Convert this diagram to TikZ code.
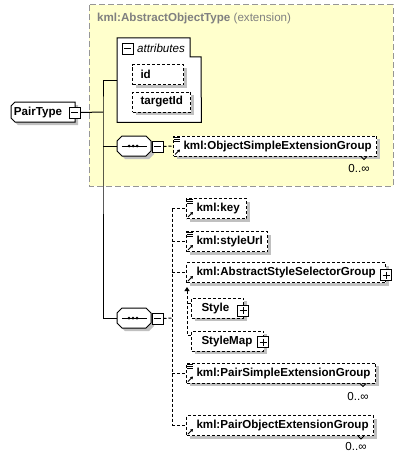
\documentclass[tikz,border=0pt]{standalone}
\usepackage{fontspec}
\setmainfont{Liberation Sans}
\usetikzlibrary{arrows.meta,positioning,calc}

\definecolor{extfill}{RGB}{255,255,204}
\definecolor{extline}{RGB}{150,150,150}
\definecolor{shadowgray}{RGB}{192,192,192}
\definecolor{captiongray}{RGB}{128,128,128}

\tikzset{
  boxshadow/.style={preaction={fill=shadowgray,draw=none,transform canvas={shift={(3pt,-3pt)}}}},
  txt/.style={font=\fontsize{11.6}{14}\selectfont},
  lbl/.style={font=\fontsize{11.6}{14}\selectfont\bfseries},
  link/.style={line width=1pt},
  optlink/.style={line width=1pt,dash pattern=on 3pt off 2pt},
  outline/.style={link,fill=white,boxshadow},
  elembox/.style={lbl,draw,optlink,fill=white,boxshadow,minimum height=20pt,
    inner ysep=0pt,inner xsep=10pt,text width=#1,align=left,anchor=west},
  attrbox/.style={elembox=#1,inner xsep=8pt},
  pmbox/.style={draw,fill=white,minimum size=11pt,inner sep=0pt,line width=1pt},
  minusbox/.style={pmbox,path picture={
    \draw[line width=1pt] ([xshift=2pt]path picture bounding box.west) -- ([xshift=-2pt]path picture bounding box.east);}},
  plusbox/.style={pmbox,path picture={
    \draw[line width=1pt] ([xshift=2pt]path picture bounding box.west) -- ([xshift=-2pt]path picture bounding box.east);
    \draw[line width=1pt] ([yshift=-2pt]path picture bounding box.north) -- ([yshift=2pt]path picture bounding box.south);}},
  seqbox/.style={minimum width=34pt,minimum height=20pt,inner sep=0pt},
  card/.style={txt,inner sep=0pt}
}

\begin{document}
\begin{tikzpicture}[x=1pt,y=-1pt]
    \useasboundingbox (0,0) rectangle (413,460);

    % Extension area
    \draw[extline,fill=extfill,dash pattern=on 6pt off 3pt,line width=1pt] (89,5) rectangle (393,186);
    \node[anchor=west,text=captiongray,card] (exttitle) at (97,19) {\textbf{kml:AbstractObjectType} (extension)};

    % Attributes
    \node[minimum width=84pt,minimum height=84pt,anchor=north west,inner sep=0pt] (attrs) at (117,38) {};
    \draw[link,fill=white] (attrs.north west) -- ++(73,0) -- ++(0,19) -- ++(11,0) -- (attrs.south east) -- (attrs.south west) -- cycle;
    \node[minusbox] (attrmin) at (127.5,49) {};
    \node[anchor=west,inner sep=0pt,font=\fontsize{11.6}{14}\selectfont\itshape] (attrtitle) at (137,48) {attributes};
    \node[attrbox=35pt] (id) at (132,74.5) {id};
    \node[attrbox=42pt] (targetid) at (132,102) {targetId};

    % Root type
    \coordinate (pairc) at (43,112);
    \draw[outline,shift={(pairc)}] (-28,-10) -- (32,-10) -- (32,10) -- (-28,10) -- (-32,6) -- (-32,-6) -- cycle;
    \node[lbl,inner sep=0pt] (pair) at ([xshift=-5pt]pairc) {PairType};
    \node[minusbox] (pairmin) at (74.5,112.5) {};

    % Sequences
    \node[seqbox] (seq1) at (134,146) {};
    \node[seqbox] (seq2) at (134,318) {};
    \foreach \s in {seq1,seq2} {
        \draw[outline,shift={(\s)}] (-12,-10) -- (12,-10) -- (17,-5) -- (17,5) -- (12,10) -- (-12,10) -- (-17,5) -- (-17,-5) -- cycle;
        \draw[link] ([xshift=5pt]\s.west) -- ([xshift=-4pt]\s.east);
        \foreach \d in {-4,0,4}
            \fill ([xshift=\d pt-1pt]\s.center) circle (1.5pt);
    }
    \node[minusbox] (seq1min) at (157.5,146.5) {};
    \node[minusbox] (seq2min) at (157.5,318.5) {};

    % Elements
    \node[elembox=183pt] (osext) at (173,146) {kml:ObjectSimpleExtensionGroup};
    \node[elembox=40pt] (key) at (186,208.5) {kml:key};
    \node[elembox=61pt] (styleurl) at (186,241.5) {kml:styleUrl};
    \node[elembox=179pt] (abssel) at (186,272.5) {kml:AbstractStyleSelectorGroup};
    \node[elembox=32pt] (style) at (191,308) {Style};
    \node[elembox=52pt] (stylemap) at (191,341) {StyleMap};
    \node[elembox=169pt] (pairsimple) at (186,373) {kml:PairSimpleExtensionGroup};
    \node[elembox=167pt] (pairobj) at (186,425.5) {kml:PairObjectExtensionGroup};

    \node[plusbox] (absselplus) at ([yshift=-2.5pt]abssel.east) {};
    \node[plusbox] (styleplus) at ([xshift=-1pt,yshift=-2.5pt]style.east) {};
    \node[plusbox] (stylemapplus) at ([xshift=-1pt,yshift=-1pt]stylemap.east) {};

    % Icons and occurrences
    \foreach \n in {osext,key,styleurl,pairsimple}
        \foreach \k in {1.5,3.5,5.5}
            \draw[line width=0.8pt] ([xshift=1pt,yshift=-\k pt]\n.north west) -- ++(6,0);
    \foreach \n in {osext,key,styleurl,abssel,pairsimple,pairobj}
        \draw[line width=1pt,-{Triangle[length=2.5pt,width=3pt]}] ([xshift=2pt,yshift=2pt]\n.south west) -- ++(5,-5);
    \foreach \n in {osext,pairsimple,pairobj}
        \draw[line width=0.8pt] ([xshift=-16pt]\n.south east) -- ++(3,3) -- ++(3,-3);
    \node[card] (osextcard) at ([xshift=-18pt,yshift=-12pt]osext.south east) {0..∞};
    \node[card] (pairsimplecard) at ([xshift=-18pt,yshift=-13pt]pairsimple.south east) {0..∞};
    \node[card] (pairobjcard) at ([xshift=-18pt,yshift=-11pt]pairobj.south east) {0..∞};

    % Connectors
    \coordinate (trunk) at (103,112);
    \draw[link] (pairmin.east) -- (trunk);
    \draw[link] (attrs.west) -| (trunk) |- (seq2.west);
    \draw[link] (seq1.west) -- (seq1.west -| trunk);
    \draw[optlink] (seq1min.east) -- (osext.west);
    \coordinate (chbus) at (172,318);
    \draw[optlink] (seq2min.east) -- (chbus);
    \draw[optlink] (key.west -| chbus) -- (pairobj.west -| chbus);
    \foreach \n in {key,styleurl,abssel,pairsimple,pairobj}
        \draw[optlink] (\n.west -| chbus) -- (\n.west);

    % Substitution group
    \draw[optlink,-{Triangle[length=4pt,width=5pt]}] ([yshift=6pt]stylemap.west) -- ++(-4,0) -- ++(0,-48);
    \draw[optlink] ([yshift=5pt]style.west) -- ++(-4,0);
\end{tikzpicture}
\end{document}
